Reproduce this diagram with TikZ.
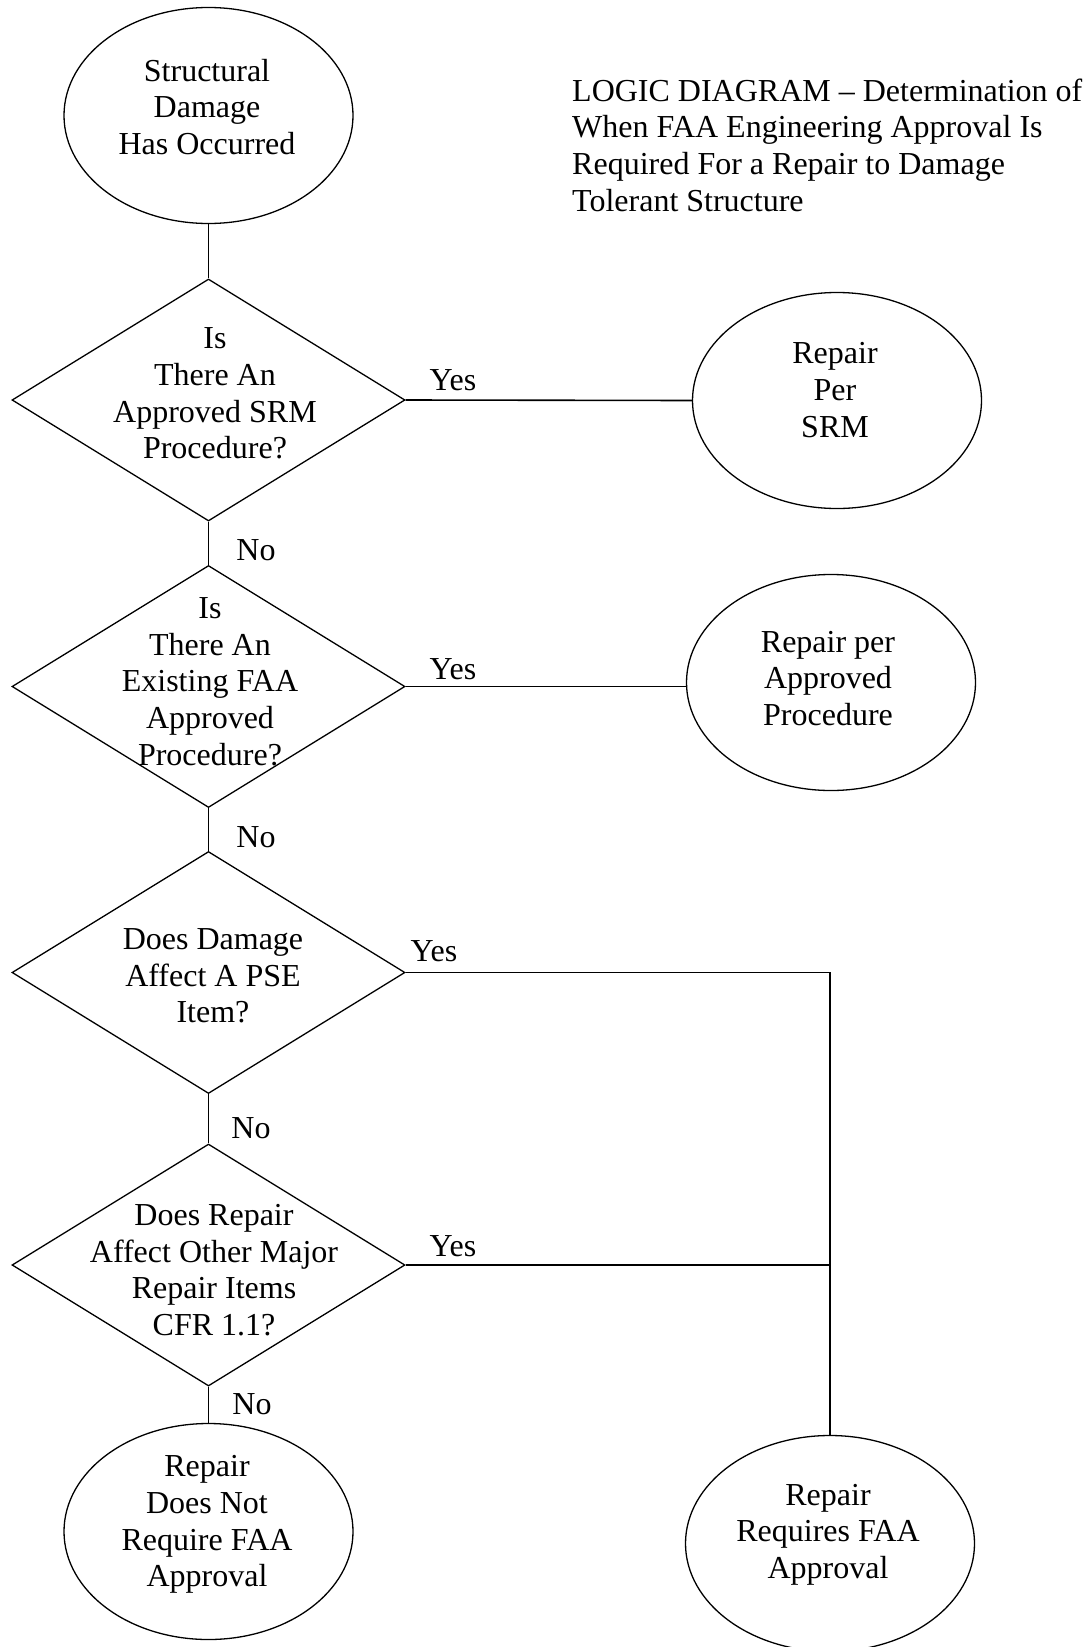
\documentclass[tikz,border=0pt]{standalone}
\usepackage{fontspec}
\setmainfont{Liberation Serif}
\usetikzlibrary{shapes.geometric}
\begin{document}
\begin{tikzpicture}[x=1bp,y=-1bp,
  txt/.style={font=\fontsize{32bp}{36.7bp}\selectfont, align=center, inner sep=0pt},
  oval/.style={draw, ellipse, line width=1.3bp, minimum width=289bp, minimum height=216bp, inner sep=0pt},
  decision/.style={draw, diamond, line width=1.3bp, minimum width=393bp, minimum height=242bp, inner sep=0pt},
  link/.style={line width=1.6bp},
  lbl/.style={font=\fontsize{32bp}{36.7bp}\selectfont, inner sep=0pt}]
\useasboundingbox (0,0) rectangle (1091,1647);
\fill[white] (0,0) rectangle (1091,1647);

% shapes
\node[oval] (start) at (208.5,115.5) {};
\node[txt] (starttxt) at (207,107) {Structural\\Damage\\Has Occurred};
\node[txt, anchor=west, align=left] (title) at (572,145) {LOGIC DIAGRAM – Determination of\\When FAA Engineering Approval Is\\Required For a Repair to Damage\\Tolerant Structure};

\node[decision] (d1) at (208.5,400) {};
\node[txt] (d1txt) at (215,393.5) {Is\\There An\\Approved SRM\\Procedure?};
\node[oval] (srm) at (837,400.5) {};
\node[txt] (srmtxt) at (835,390) {Repair\\Per\\SRM};

\node[decision] (d2) at (208.5,686.5) {};
\node[txt] (d2txt) at (210,681.5) {Is\\There An\\Existing FAA\\Approved\\Procedure?};
\node[oval] (appr) at (831,682.5) {};
\node[txt] (apprtxt) at (828,678.5) {Repair per\\Approved\\Procedure};

\node[decision] (d3) at (208.5,972.5) {};
\node[txt] (d3txt) at (213,976) {Does Damage\\Affect A PSE\\Item?};

\node[decision] (d4) at (208.5,1265) {};
\node[txt] (d4txt) at (214,1270) {Does Repair\\Affect Other Major\\Repair Items\\CFR 1.1?};

\node[oval] (noappr) at (208.5,1531.5) {};
\node[txt] (noapprtxt) at (207,1524.5) {Repair\\Does Not\\Require FAA\\Approval};
\node[oval] (reqappr) at (830,1543.5) {};
\node[txt] (reqapprtxt) at (828,1534.5) {Repair\\Requires FAA\\Approval};

% connectors
\draw[link] (start.south) -- (d1.north);
\draw[link] (d1.east) -- (srm.west);
\draw[link] (d1.south) -- (d2.north);
\draw[link] (d2.east) -- (d2.east -| appr.west);
\draw[link] (d2.south) -- (d3.north);
\draw[link] (d3.east) -| (reqappr.north);
\draw[link] (d3.south) -- (d4.north);
\draw[link] (d4.east) -- (d4.east -| reqappr.north);
\draw[link] (d4.south) -- (noappr.north);

% labels
\node[lbl] (yes1) at (453,380) {Yes};
\node[lbl] (yes2) at (453,669) {Yes};
\node[lbl] (yes3) at (434,951) {Yes};
\node[lbl] (yes4) at (453,1246) {Yes};
\node[lbl] (no1) at (256,550) {No};
\node[lbl] (no2) at (256,837) {No};
\node[lbl] (no3) at (251,1128) {No};
\node[lbl] (no4) at (252,1404) {No};
\end{tikzpicture}
\end{document}
